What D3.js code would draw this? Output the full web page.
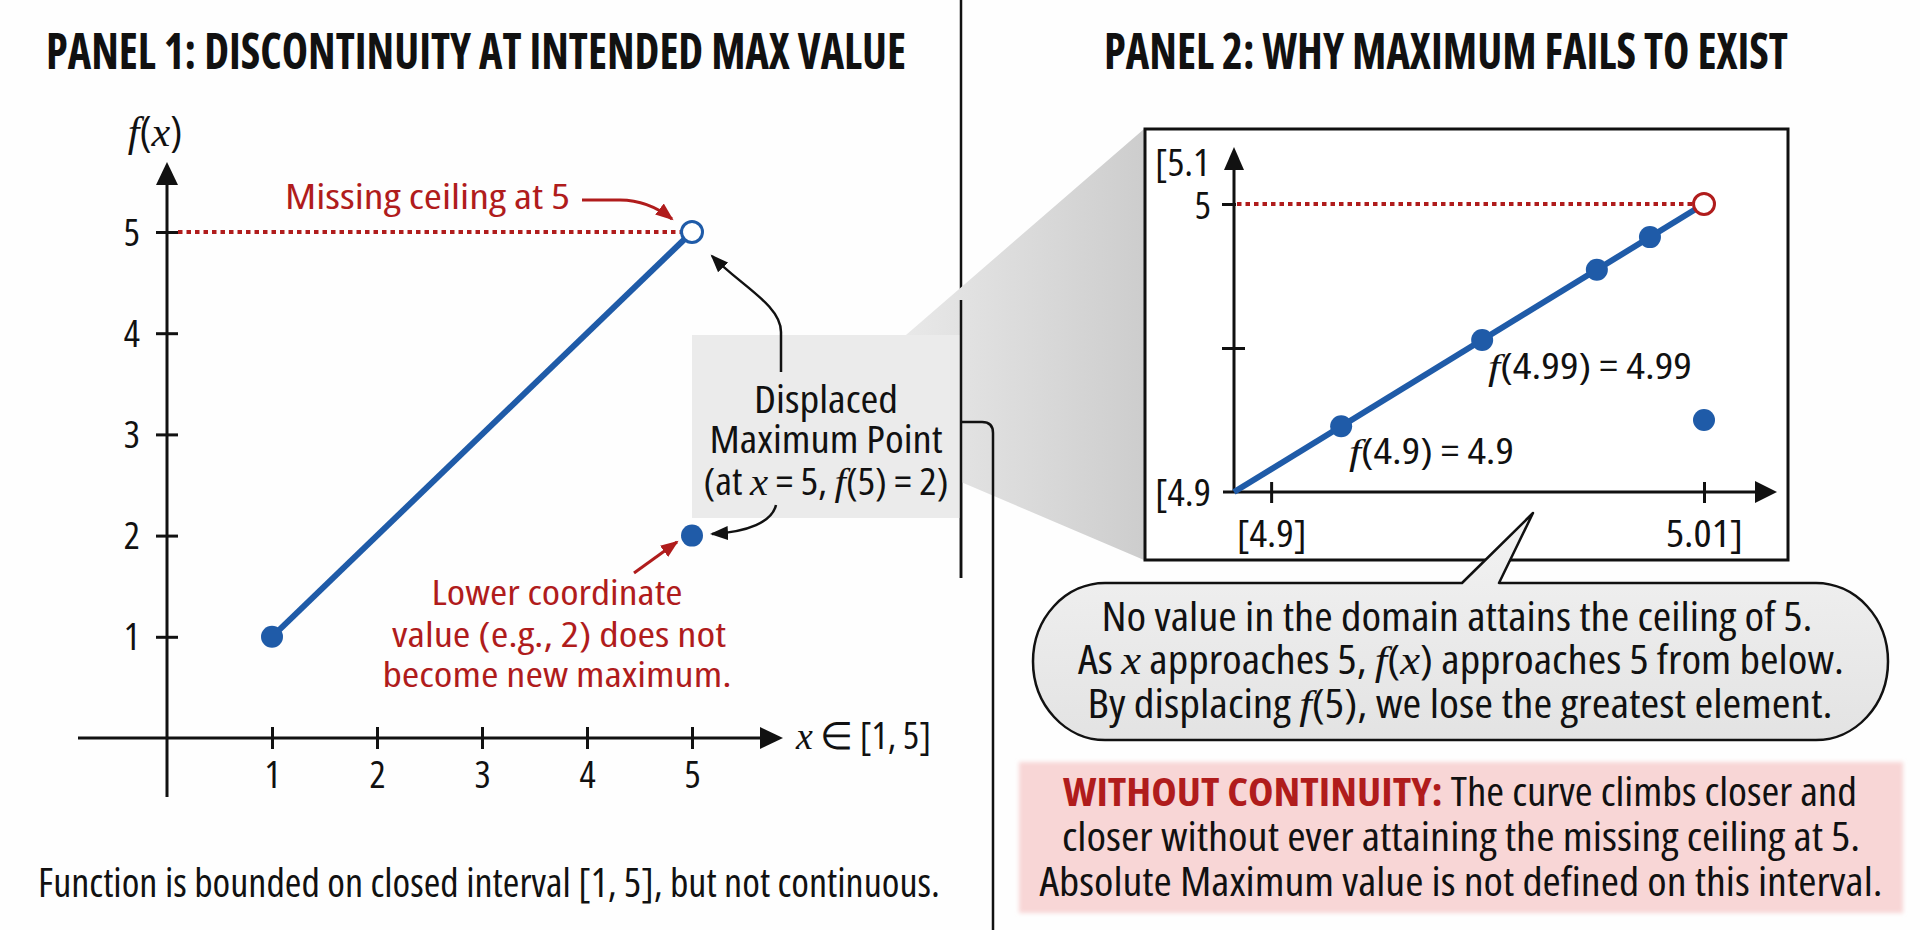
<!DOCTYPE html>
<html><head><meta charset="utf-8">
<script src="https://cdn.jsdelivr.net/npm/d3@7"></script>
<style>
html,body{margin:0;padding:0;background:#fefefe;}
svg{display:block;}
text{font-family:"Open Sans","Liberation Sans Narrow",sans-serif;font-stretch:condensed;}
</style></head><body>
<svg id="chart" width="1920" height="930"></svg>
<script>
// ---------- data ----------
const p1XTicks = [1, 2, 3, 4, 5];
const p1YTicks = [1, 2, 3, 4, 5];
const p1Segment = [[1, 1], [5, 5]];
const p1Start = [1, 1];
const p1OpenEnd = [5, 5];
const p1Displaced = [5, 2];
const p1Ceiling = 5;

const p2Segment = [[4.9, 4.9], [5.0, 5.0]];
const p2Points = [[4.9228, 4.9228], [4.9528, 4.9528], [4.9772, 4.9772], [4.9885, 4.9885]];
const p2OpenEnd = [5.0, 5.0];
const p2Displaced = [5.0, 4.925];
const p2Ceiling = 5.0;
const p2XTicks = [4.9079, 5.0];
const p2XTickLabels = ["[4.9]", "5.01]"];
const p2YTicks = [4.95, 5.0];
const p2YTickLabels = ["", "5"];
const p2YBottomLabel = "[4.9";
const p2YTopLabel = "[5.1";

const titles = ["PANEL 1: DISCONTINUITY AT INTENDED MAX VALUE", "PANEL 2: WHY MAXIMUM FAILS TO EXIST"];

// ---------- setup ----------
const svg = d3.select("#chart");
const BLUE = "#1f5ba8", RED = "#b01c1c", INK = "#111";
const SERIF = "'Liberation Serif','DejaVu Serif',serif";
const W = 400;

const defs = svg.append("defs");
function marker(id, color) {
  defs.append("marker").attr("id", id).attr("markerUnits", "userSpaceOnUse")
    .attr("markerWidth", 20).attr("markerHeight", 16).attr("refX", 16).attr("refY", 8)
    .attr("orient", "auto")
    .append("path").attr("d", "M0,1 L18,8 L0,15 Z").attr("fill", color);
}
marker("arrK", INK);
marker("arrR", RED);
const sg = defs.append("linearGradient").attr("id", "shade").attr("gradientUnits", "userSpaceOnUse")
  .attr("x1", 900).attr("y1", 0).attr("x2", 1144).attr("y2", 0);
sg.append("stop").attr("offset", 0).attr("stop-color", "#e9e9e9");
sg.append("stop").attr("offset", 1).attr("stop-color", "#cdcdcd");
const bg = defs.append("linearGradient").attr("id", "bub").attr("x1", 0).attr("y1", 0).attr("x2", 0).attr("y2", 1);
bg.append("stop").attr("offset", 0).attr("stop-color", "#f3f3f3");
bg.append("stop").attr("offset", 1).attr("stop-color", "#e3e3e3");
defs.append("filter").attr("id", "soft").attr("x", "-5%").attr("y", "-5%").attr("width", "110%").attr("height", "110%")
  .append("feGaussianBlur").attr("stdDeviation", 2);

function txt(g, o) {
  const t = g.append("text").attr("x", o.x).attr("y", o.y)
    .attr("text-anchor", o.anchor || "middle")
    .attr("font-size", o.size).attr("fill", o.fill || INK)
    .attr("font-weight", o.weight || W);
  if (o.len) t.attr("textLength", o.len).attr("lengthAdjust", "spacingAndGlyphs");
  (o.parts || [[o.text, ""]]).forEach(([s, st]) => {
    const sp = t.append("tspan").text(s);
    if (st.includes("i")) sp.attr("font-family", SERIF).attr("font-style", "italic").attr("font-weight", 400);
    if (st.includes("r")) sp.attr("fill", RED).attr("font-weight", 700);
  });
  return t;
}

// ---------- titles ----------
txt(svg, {x: 476, y: 69, size: 50, weight: 700, text: titles[0], len: 860});
txt(svg, {x: 1446, y: 69, size: 50, weight: 700, text: titles[1], len: 684});

// ---------- separators ----------
svg.append("line").attr("x1", 961).attr("y1", 0).attr("x2", 961).attr("y2", 578)
  .attr("stroke", INK).attr("stroke-width", 2.5);

// ---------- zoom shade + displaced box ----------
svg.append("polygon").attr("points", "906,335 1144,129 1144,560 961,482 961,335").attr("fill", "url(#shade)");
svg.append("rect").attr("x", 692).attr("y", 335).attr("width", 269).attr("height", 183).attr("fill", "#ebebeb");
svg.append("line").attr("x1", 961).attr("y1", 300).attr("x2", 961).attr("y2", 578)
  .attr("stroke", INK).attr("stroke-width", 2.5);
svg.append("path").attr("d", "M961,422 L982,422 Q993,422 993,433 L993,930")
  .attr("fill", "none").attr("stroke", INK).attr("stroke-width", 2.5);

// ---------- panel 1 ----------
const x1 = d3.scaleLinear().domain([0, 5]).range([167, 692]);
const y1 = d3.scaleLinear().domain([0, 5]).range([738, 232]);
const p1 = svg.append("g");

p1.append("line").attr("x1", 78).attr("x2", 765).attr("y1", y1(0)).attr("y2", y1(0)).attr("stroke", INK).attr("stroke-width", 3);
p1.append("polygon").attr("points", `783,${y1(0)} 760,${y1(0) - 11} 760,${y1(0) + 11}`).attr("fill", INK);
p1.append("line").attr("x1", x1(0)).attr("x2", x1(0)).attr("y1", 797).attr("y2", 180).attr("stroke", INK).attr("stroke-width", 3);
p1.append("polygon").attr("points", `${x1(0)},162 ${x1(0) - 11},185 ${x1(0) + 11},185`).attr("fill", INK);

const ax1 = p1.append("g").attr("transform", `translate(0,${y1(0)})`)
  .call(d3.axisBottom(x1).tickValues(p1XTicks).tickFormat(d3.format("d")).tickSize(11));
ax1.select(".domain").remove();
ax1.selectAll(".tick line").attr("y1", -11).attr("stroke", INK).attr("stroke-width", 3);
ax1.selectAll(".tick text").attr("y", 50).attr("dy", 0).attr("font-size", 38).attr("font-weight", W).attr("fill", INK)
  .attr("font-family", null);

const ay1 = p1.append("g").attr("transform", `translate(${x1(0)},0)`)
  .call(d3.axisLeft(y1).tickValues(p1YTicks).tickFormat(d3.format("d")).tickSize(11));
ay1.select(".domain").remove();
ay1.selectAll(".tick line").attr("x1", 11).attr("stroke", INK).attr("stroke-width", 3);
ay1.selectAll(".tick text").attr("x", -27).attr("dy", 0).attr("y", 13).attr("font-size", 38).attr("font-weight", W).attr("fill", INK)
  .attr("font-family", null);

txt(p1, {x: 155, y: 146, size: 42, weight: 400, parts: [["f", "i"], ["(", ""], ["x", "i"], [")", ""]]}).attr("font-family", SERIF);
txt(p1, {x: 796, y: 749, anchor: "start", size: 38, len: 135, parts: [["x", "i"], [" ∈ [1, 5]", ""]]});

p1.append("line").attr("x1", x1(0) + 11).attr("x2", x1(p1OpenEnd[0]) - 11)
  .attr("y1", y1(p1Ceiling)).attr("y2", y1(p1Ceiling))
  .attr("stroke", RED).attr("stroke-width", 4).attr("stroke-dasharray", "4.5,4");

p1.append("line").attr("x1", x1(p1Segment[0][0])).attr("y1", y1(p1Segment[0][1]))
  .attr("x2", x1(p1Segment[1][0])).attr("y2", y1(p1Segment[1][1]))
  .attr("stroke", BLUE).attr("stroke-width", 6);
p1.append("circle").attr("cx", x1(p1Start[0])).attr("cy", y1(p1Start[1])).attr("r", 11).attr("fill", BLUE);
p1.append("circle").attr("cx", x1(p1OpenEnd[0])).attr("cy", y1(p1OpenEnd[1])).attr("r", 10.5)
  .attr("fill", "#fff").attr("stroke", BLUE).attr("stroke-width", 3);
p1.append("circle").attr("cx", x1(p1Displaced[0])).attr("cy", y1(p1Displaced[1])).attr("r", 11).attr("fill", BLUE);

txt(p1, {x: 285, y: 209, anchor: "start", size: 34, fill: RED, text: "Missing ceiling at 5", len: 285});
p1.append("path").attr("d", "M582,200 L620,200 Q648,200 672,219").attr("fill", "none")
  .attr("stroke", RED).attr("stroke-width", 3).attr("marker-end", "url(#arrR)");

txt(p1, {x: 826, y: 413, size: 38, text: "Displaced", len: 144});
txt(p1, {x: 826, y: 453, size: 38, text: "Maximum Point", len: 233});
txt(p1, {x: 826, y: 495, size: 38, len: 245, parts: [["(at ", ""], ["x", "i"], [" = 5, ", ""], ["f", "i"], ["(5) = 2)", ""]]});
p1.append("path").attr("d", "M781,372 L781,332 C781,305 740,285 712,256").attr("fill", "none")
  .attr("stroke", INK).attr("stroke-width", 2.5).attr("marker-end", "url(#arrK)");
p1.append("path").attr("d", "M776,505 C772,522 748,532 712,534").attr("fill", "none")
  .attr("stroke", INK).attr("stroke-width", 2.5).attr("marker-end", "url(#arrK)");

txt(p1, {x: 557, y: 605, size: 34, fill: RED, text: "Lower coordinate", len: 251});
txt(p1, {x: 559, y: 647, size: 34, fill: RED, text: "value (e.g., 2) does not", len: 334});
txt(p1, {x: 557, y: 687, size: 34, fill: RED, text: "become new maximum.", len: 349});
p1.append("path").attr("d", "M634,573 L677,542").attr("fill", "none")
  .attr("stroke", RED).attr("stroke-width", 3).attr("marker-end", "url(#arrR)");

txt(p1, {x: 489, y: 897, size: 40, text: "Function is bounded on closed interval [1, 5], but not continuous.", len: 902});

// ---------- panel 2 inset ----------
const p2 = svg.append("g");
p2.append("rect").attr("x", 1145).attr("y", 129).attr("width", 643).attr("height", 431)
  .attr("fill", "#fff").attr("stroke", INK).attr("stroke-width", 3);
const x2 = d3.scaleLinear().domain([4.9, 5.0]).range([1234, 1704]);
const y2 = d3.scaleLinear().domain([4.9, 5.0]).range([492, 204]);

p2.append("line").attr("x1", 1223).attr("x2", 1760).attr("y1", y2(4.9)).attr("y2", y2(4.9)).attr("stroke", INK).attr("stroke-width", 3);
p2.append("polygon").attr("points", `1777,${y2(4.9)} 1755,${y2(4.9) - 11} 1755,${y2(4.9) + 11}`).attr("fill", INK);
p2.append("line").attr("x1", x2(4.9)).attr("x2", x2(4.9)).attr("y1", y2(4.9)).attr("y2", 165).attr("stroke", INK).attr("stroke-width", 3);
p2.append("polygon").attr("points", `${x2(4.9)},147 ${x2(4.9) - 10},170 ${x2(4.9) + 10},170`).attr("fill", INK);

const ax2 = p2.append("g").attr("transform", `translate(0,${y2(4.9)})`)
  .call(d3.axisBottom(x2).tickValues(p2XTicks).tickFormat((d, i) => p2XTickLabels[i]).tickSize(11));
ax2.select(".domain").remove();
ax2.selectAll(".tick line").attr("y1", -10).attr("stroke", INK).attr("stroke-width", 3);
ax2.selectAll(".tick text").attr("y", 55).attr("dy", 0).attr("font-size", 38).attr("font-weight", W).attr("fill", INK).attr("font-family", null)
  .attr("textLength", (d, i) => [70, 77][i]).attr("lengthAdjust", "spacingAndGlyphs");

const ay2 = p2.append("g").attr("transform", `translate(${x2(4.9)},0)`)
  .call(d3.axisLeft(y2).tickValues(p2YTicks).tickFormat((d, i) => p2YTickLabels[i]).tickSize(12));
ay2.select(".domain").remove();
ay2.selectAll(".tick line").attr("x1", (d, i) => i === 0 ? 11 : 2).attr("stroke", INK).attr("stroke-width", 3);
ay2.selectAll(".tick text").attr("x", -23).attr("dy", 0).attr("y", 14).attr("font-size", 38).attr("font-weight", W).attr("fill", INK).attr("font-family", null);
txt(p2, {x: 1211, y: y2(4.9) + 14, anchor: "end", size: 38, text: p2YBottomLabel, len: 56});
txt(p2, {x: 1210, y: 176, anchor: "end", size: 38, text: p2YTopLabel, len: 55});

p2.append("line").attr("x1", x2(4.9) + 3).attr("x2", x2(p2OpenEnd[0]) - 11)
  .attr("y1", y2(p2Ceiling)).attr("y2", y2(p2Ceiling))
  .attr("stroke", RED).attr("stroke-width", 4).attr("stroke-dasharray", "4.5,4");
p2.append("line").attr("x1", x2(p2Segment[0][0])).attr("y1", y2(p2Segment[0][1]))
  .attr("x2", x2(p2Segment[1][0])).attr("y2", y2(p2Segment[1][1]))
  .attr("stroke", BLUE).attr("stroke-width", 6);
p2.selectAll("circle.pt").data(p2Points).join("circle").attr("class", "pt")
  .attr("cx", d => x2(d[0])).attr("cy", d => y2(d[1])).attr("r", 11).attr("fill", BLUE);
p2.append("circle").attr("cx", x2(p2OpenEnd[0])).attr("cy", y2(p2OpenEnd[1])).attr("r", 10.5)
  .attr("fill", "#fff").attr("stroke", RED).attr("stroke-width", 3);
p2.append("circle").attr("cx", x2(p2Displaced[0])).attr("cy", y2(p2Displaced[1])).attr("r", 11).attr("fill", BLUE);

txt(p2, {x: 1488, y: 379, anchor: "start", size: 36, len: 204, parts: [["f", "i"], ["(4.99) = 4.99", ""]]});
txt(p2, {x: 1349, y: 464, anchor: "start", size: 36, len: 165, parts: [["f", "i"], ["(4.9) = 4.9", ""]]});

// ---------- speech bubble ----------
const L = 1033, R = 1888, T = 583, B = 740, rx = 72, ry = (B - T) / 2;
const bubblePath = `M${L + rx},${T} L1462,${T} L1533,513 L1499,${T} L${R - rx},${T}` +
  ` A${rx},${ry} 0 0 1 ${R - rx},${B} L${L + rx},${B} A${rx},${ry} 0 0 1 ${L + rx},${T} Z`;
svg.append("path").attr("d", bubblePath).attr("fill", "url(#bub)").attr("stroke", INK).attr("stroke-width", 2.5)
  .attr("stroke-linejoin", "round");
txt(svg, {x: 1457, y: 631, size: 40, text: "No value in the domain attains the ceiling of 5.", len: 711});
txt(svg, {x: 1461, y: 674, size: 40, len: 766, parts: [["As ", ""], ["x", "i"], [" approaches 5, ", ""], ["f", "i"], ["(", ""], ["x", "i"], [") approaches 5 from below.", ""]]});
txt(svg, {x: 1460, y: 718, size: 40, len: 745, parts: [["By displacing ", ""], ["f", "i"], ["(5), we lose the greatest element.", ""]]});

// ---------- conclusion box ----------
svg.append("rect").attr("x", 1019).attr("y", 762).attr("width", 884).attr("height", 151)
  .attr("fill", "#f8d6d6").attr("filter", "url(#soft)");
txt(svg, {x: 1460, y: 806, size: 40, len: 794, parts: [["WITHOUT CONTINUITY:", "r"], [" The curve climbs closer and", ""]]});
txt(svg, {x: 1461, y: 851, size: 40, text: "closer without ever attaining the missing ceiling at 5.", len: 798});
txt(svg, {x: 1461, y: 896, size: 40, text: "Absolute Maximum value is not defined on this interval.", len: 843});
</script>
</body></html>
